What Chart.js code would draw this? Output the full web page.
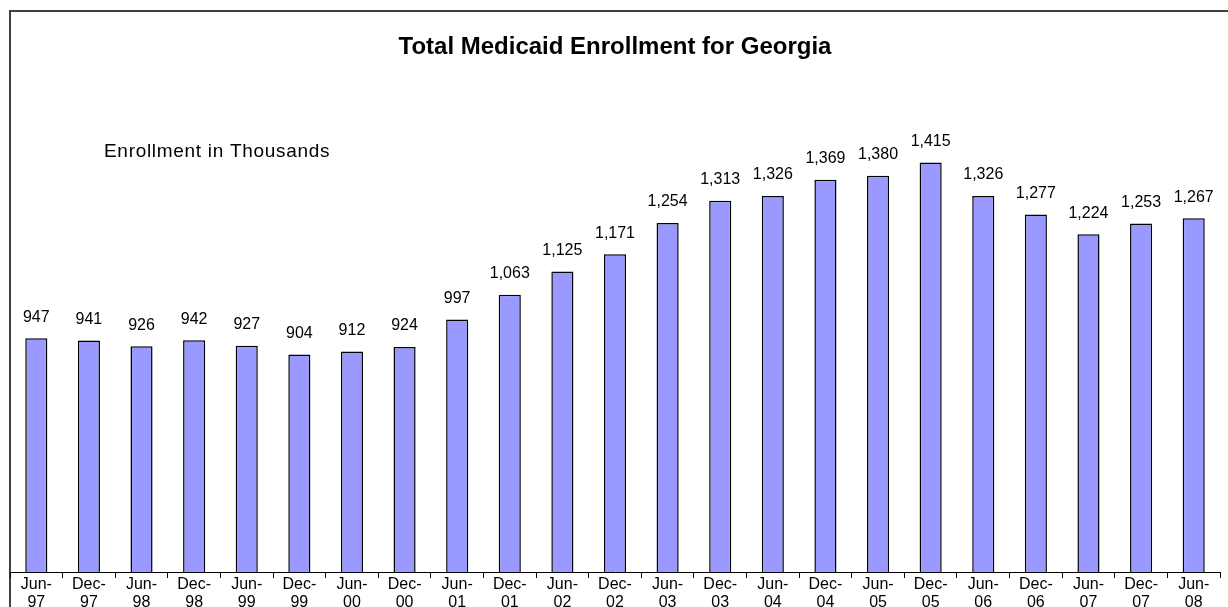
<!DOCTYPE html>
<html><head><meta charset="utf-8">
<script src="https://cdn.jsdelivr.net/npm/chart.js@4"></script>
<style>html,body{margin:0;padding:0;background:#fff;overflow:hidden}</style>
</head><body>
<canvas id="c" width="1228" height="607"></canvas>
<script>
const categories = [["Jun-","97"],["Dec-","97"],["Jun-","98"],["Dec-","98"],["Jun-","99"],["Dec-","99"],["Jun-","00"],["Dec-","00"],["Jun-","01"],["Dec-","01"],["Jun-","02"],["Dec-","02"],["Jun-","03"],["Dec-","03"],["Jun-","04"],["Dec-","04"],["Jun-","05"],["Dec-","05"],["Jun-","06"],["Dec-","06"],["Jun-","07"],["Dec-","07"],["Jun-","08"]];
const enrollment = [947,941,926,942,927,904,912,924,997,1063,1125,1171,1254,1313,1326,1369,1380,1415,1326,1277,1224,1253,1267];
const yMin = 325, yMax = 1688;
const chartTitle = "Total Medicaid Enrollment for Georgia";
const subTitle = "Enrollment in Thousands";
const FONT = "'Liberation Sans', Arial, sans-serif";

const decor = {
  id: 'decor',
  beforeDraw(chart) {
    const ctx = chart.ctx;
    ctx.save();
    ctx.fillStyle = '#fff';
    ctx.fillRect(0, 0, chart.width, chart.height);
    ctx.strokeStyle = '#404040';
    ctx.lineWidth = 2;
    ctx.strokeRect(10, 11, 1400, 800);
    ctx.restore();
  },
  afterDatasetsDraw(chart) {
    const ctx = chart.ctx;
    ctx.save();
    ctx.fillStyle = '#000';
    ctx.textAlign = 'center';
    ctx.textBaseline = 'middle';
    ctx.font = 'bold 24px ' + FONT;
    ctx.fillText(chartTitle, 615, 47);
    ctx.textAlign = 'left';
    ctx.font = '19px ' + FONT;
    ctx.letterSpacing = '0.7px';
    ctx.fillText(subTitle, 104, 152);
    ctx.letterSpacing = '0px';
    ctx.textAlign = 'center';
    ctx.font = '16px ' + FONT;
    const meta = chart.getDatasetMeta(0);
    meta.data.forEach((bar, i) => {
      ctx.fillText(enrollment[i].toLocaleString('en-US'), bar.x, bar.y - 21);
    });
    ctx.restore();
  }
};

new Chart(document.getElementById('c'), {
  type: 'bar',
  data: {
    labels: categories,
    datasets: [{
      data: enrollment,
      backgroundColor: '#9999FF',
      borderColor: '#000',
      borderWidth: 1.5,
      barPercentage: 0.42,
      categoryPercentage: 1.0
    }]
  },
  options: {
    responsive: false,
    animation: false,
    devicePixelRatio: 1,
    layout: { padding: { left: 10, right: 8, top: 60, bottom: 0 } },
    plugins: { legend: { display: false }, tooltip: { enabled: false }, title: { display: false } },
    scales: {
      x: {
        type: 'category',
        offset: true,
        grid: { offset: true, drawOnChartArea: false, drawTicks: true, tickLength: 6, color: '#000' },
        border: { display: true, color: '#000', width: 1 },
        ticks: { color: '#000', font: { family: FONT, size: 16, lineHeight: '18px' }, padding: -2, maxRotation: 0, minRotation: 0, autoSkip: false },
        afterFit(s) { s.height = 35; }
      },
      y: { display: false, min: yMin, max: yMax }
    }
  },
  plugins: [decor]
});
</script>
</body></html>
